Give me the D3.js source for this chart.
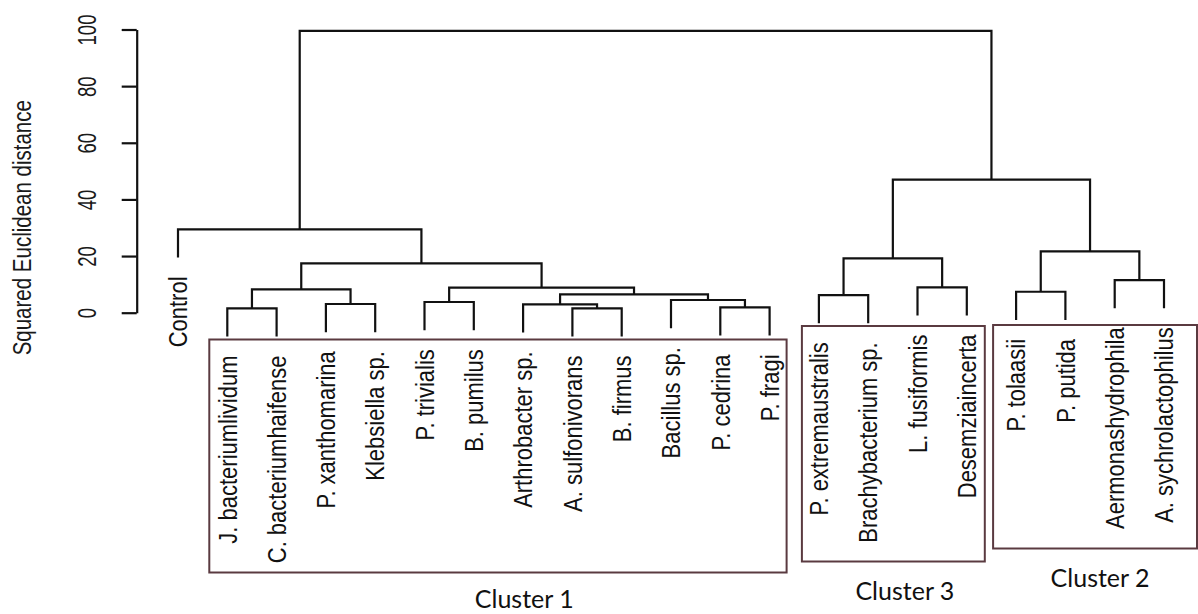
<!DOCTYPE html>
<html>
<head>
<meta charset="utf-8">
<script src="https://cdn.jsdelivr.net/npm/d3@7"></script>
<style>
  body { margin: 0; background: #fff; }
  svg { display: block; }
  .branch { fill: none; stroke: #111; stroke-width: 2.2; }
  .leaf-label { font-family: "Liberation Sans", Arial, sans-serif; font-size: 22px; fill: #111; }
  .tick text { font-family: "Liberation Sans", Arial, sans-serif; font-size: 18.5px; fill: #1a1a1a; }
  .axis-title { font-family: "Liberation Sans", Arial, sans-serif; font-size: 20.5px; fill: #1a1a1a; }
  .cluster-box { fill: none; stroke: #5a3a40; stroke-width: 2; }
  .cluster-label { font-family: Lato, "Open Sans", sans-serif; font-size: 25px; fill: #111; }
</style>
</head>
<body>
<svg></svg>
<script>
// leaves, in the order the dendrogram draws them
const leafNames = [
  "Control",
  "J. bacteriumlividum", "C. bacteriumhaifense", "P. xanthomarina", "Klebsiella sp.",
  "P. trivialis", "B. pumilus", "Arthrobacter sp.", "A. sulfonivorans", "B. firmus",
  "Bacillus sp.", "P. cedrina", "P. fragi",
  "P. extremaustralis", "Brachybacterium sp.", "L. fusiformis", "Desemziaincerta",
  "P. tolaasii", "P. putida", "Aermonashydrophila", "A. sychrolactophilus"
];

// merge table, hclust style: negative = leaf (1-based), positive = earlier merge row
const mergeLeft   = [-2, -4, -6, -9, -8, -12, -11, 5, 3, 1, 10, -1, -14, -16, 13, -18, -20, 16, 15, 12];
const mergeRight  = [-3, -5, -7, -10, 4, -13, 6, 7, 8, 2, 9, 11, -15, -17, 14, -19, -21, 17, 18, 19];
const mergeHeight = [1.55, 3.07, 3.78, 1.55, 2.97, 1.91, 4.48, 6.5, 8.83, 8.26, 17.44, 29.45,
                     6.2, 8.96, 19.2, 7.4, 11.5, 21.66, 47.0, 99.5];

const yTicks = [0, 20, 40, 60, 80, 100];

// clusters boxed under the tree
const clusterNames = ["Cluster 1", "Cluster 3", "Cluster 2"];
const clusterFirst = ["J. bacteriumlividum", "P. extremaustralis", "P. tolaasii"];
const clusterLast  = ["P. fragi", "Desemziaincerta", "A. sychrolactophilus"];

// layout of the cluster annotations (pixels)
const boxLayout = [
  { padL: 18, padR: 17, top: 339.5, bottom: 572.5, labelDx: 315, labelY: 608 },
  { padL: 17, padR: 18, top: 326, bottom: 561.5, labelDx: 103, labelY: 600 },
  { padL: 23, padR: 40, top: 325, bottom: 548.5, labelDx: 107, labelY: 587 }
];

const width = 1198, height = 614;
const svg = d3.select("svg").attr("width", width).attr("height", height);

const x = d3.scalePoint().domain(leafNames).range([178, 1164]);
const y = d3.scaleLinear().domain([0, 100]).range([312.7, 29.5]);

// leaves hang below their merge by a tenth of the height range
const hang = 0.1 * d3.max(mergeHeight);

// build the merges
const merges = [];
const leafEnd = new Map();
mergeHeight.forEach((h, i) => {
  const kids = [mergeLeft[i], mergeRight[i]].map(id => {
    if (id < 0) {
      const name = leafNames[-id - 1];
      leafEnd.set(name, h - hang);
      return { x: x(name), top: h - hang };
    }
    const m = merges[id - 1];
    return { x: m.x, top: m.h };
  });
  merges.push({ x: (kids[0].x + kids[1].x) / 2, h: h, kids: kids });
});

// branches
svg.append("g")
  .selectAll("path")
  .data(merges)
  .enter().append("path")
    .attr("class", "branch")
    .attr("d", d => {
      const [a, b] = d.kids;
      return `M${a.x},${y(a.top)}V${y(d.h)}H${b.x}V${y(b.top)}`;
    });

// leaf labels, rotated
svg.append("g")
  .selectAll("text")
  .data(leafNames)
  .enter().append("text")
    .attr("class", "leaf-label")
    .attr("text-anchor", "end")
    .attr("dy", "0.35em")
    .attr("transform", d => `translate(${x(d)},${y(leafEnd.get(d)) + 19}) scale(1.2,1) rotate(-90)`)
    .text(d => d);

// y axis
const axis = svg.append("g")
    .attr("transform", "translate(136.7,0)")
    .call(d3.axisLeft(y).tickValues(yTicks).tickSize(15).tickSizeOuter(0));

axis.select(".domain").attr("stroke", "#111").attr("stroke-width", 2.2);
axis.selectAll(".tick line").attr("stroke", "#111").attr("stroke-width", 2.2);
axis.selectAll(".tick text")
    .attr("x", null)
    .attr("dy", "0.35em")
    .attr("text-anchor", "middle")
    .attr("transform", "translate(-49,0) scale(1.35,1) rotate(-90)");

svg.append("text")
    .attr("class", "axis-title")
    .attr("text-anchor", "middle")
    .attr("dy", "0.35em")
    .attr("transform", `translate(22,${y(30)}) scale(1.3,1) rotate(-90)`)
    .text("Squared Euclidean distance");

// cluster boxes and captions
clusterNames.forEach((name, i) => {
  const L = boxLayout[i];
  const x0 = x(clusterFirst[i]) - L.padL;
  const x1 = Math.min(x(clusterLast[i]) + L.padR, width - 1);
  svg.append("rect")
      .attr("class", "cluster-box")
      .attr("x", x0).attr("y", L.top)
      .attr("width", x1 - x0).attr("height", L.bottom - L.top);
  svg.append("text")
      .attr("class", "cluster-label")
      .attr("text-anchor", "middle")
      .attr("x", x0 + L.labelDx)
      .attr("y", L.labelY)
      .text(name);
});
</script>
</body>
</html>
